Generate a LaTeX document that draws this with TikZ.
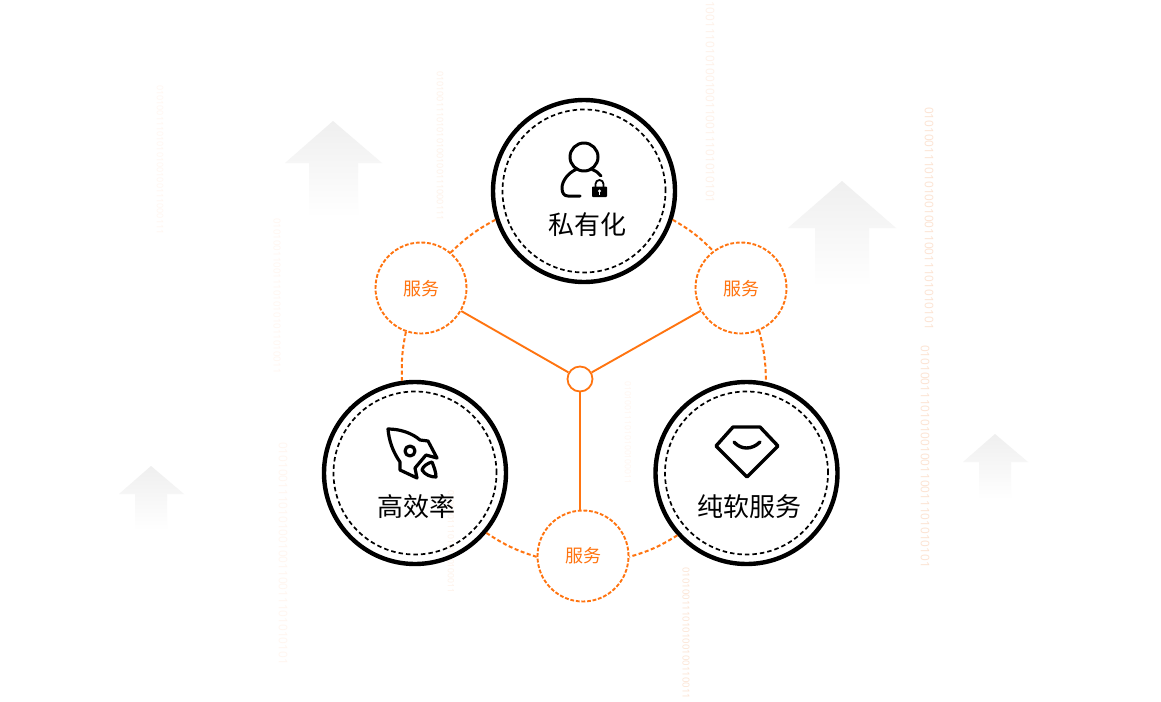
\documentclass[tikz,border=0pt]{standalone}
\usepackage{fontspec}
\setmainfont{Liberation Sans}
\newfontfamily\cjkfont{Noto Sans CJK SC}
\newfontfamily\binfont{Open Sans}
\definecolor{accent}{HTML}{FF7410}
\definecolor{arrowgray}{HTML}{EFEFEF}
\definecolor{binA}{HTML}{FCE3D2}
\definecolor{binB}{HTML}{FEF1E8}
\definecolor{binC}{HTML}{FFF6F0}
\tikzset{
  bigring/.style={circle,draw=black,line width=4.4pt,minimum size=182pt,inner sep=0pt},
  innerring/.style={circle,draw=black,line width=1.7pt,dash pattern=on 4.5pt off 3pt,minimum size=163pt,inner sep=0pt},
  smallring/.style={circle,draw=accent,line width=1.9pt,dash pattern=on 3.8pt off 1.8pt,minimum size=91pt,inner sep=0pt},
  hubring/.style={circle,draw=accent,line width=1.8pt,minimum size=25pt,inner sep=0pt},
  link/.style={draw=accent,line width=2pt,dash pattern=on 4pt off 2.5pt},
  spoke/.style={draw=accent,line width=1.9pt},
  biglabel/.style={font=\cjkfont\fontsize{26}{30}\selectfont,text=black,inner sep=0pt},
  smalllabel/.style={font=\cjkfont\fontsize{18}{22}\selectfont,text=accent,inner sep=0pt},
  binlabel/.style={rotate=-90,anchor=west,inner sep=0pt},
  icon/.style={draw=black,line width=3pt,line join=round,line cap=round},
  bgarrow/.style={top color=arrowgray,bottom color=white,draw=none}
}
\begin{document}
\begin{tikzpicture}[x=1pt,y=-1pt]
\useasboundingbox (0,0) rectangle (1161,701);
\fill[white] (0,0) rectangle (1161,701);
% background arrows
\shade[bgarrow] (333,121) -- (382,163) -- (358,163) -- (358,217) -- (309,217) -- (309,163) -- (285,163) -- cycle;
\shade[bgarrow] (842,181) -- (896,228) -- (869,228) -- (869,287) -- (815,287) -- (815,228) -- (788,228) -- cycle;
\shade[bgarrow] (151,466) -- (184,494) -- (167,494) -- (167,530) -- (135,530) -- (135,494) -- (119,494) -- cycle;
\shade[bgarrow] (995,434) -- (1028,462) -- (1011,462) -- (1011,500) -- (979,500) -- (979,462) -- (963,462) -- cycle;
% binary columns
\node[binlabel,text=binA,font=\binfont\fontsize{11.8}{12}\selectfont] (b1) at (929,107) {010100111010100100110011101010101};
\node[binlabel,text=binA,font=\binfont\fontsize{11.8}{12}\selectfont] (b2) at (925,345) {010100111010100100110011101010101};
\node[binlabel,text=binB,font=\binfont\fontsize{11.8}{12}\selectfont] (b3) at (710,1) {100111010100100110011101010101};
\node[binlabel,text=binB,font=\binfont\fontsize{9}{10}\selectfont] (b4) at (440,71) {01010011101010100100111000111};
\node[binlabel,text=binC,font=\binfont\fontsize{9}{10}\selectfont] (b5) at (160,85) {01010011101010100100111000111};
\node[binlabel,text=binC,font=\binfont\fontsize{9.7}{10}\selectfont] (b6) at (277,218) {0101001100111010101011010011};
\node[binlabel,text=binC,font=\binfont\fontsize{11.8}{12}\selectfont] (b7) at (283,442) {010100111010100100110011101010101};
\node[binlabel,text=binB,font=\binfont\fontsize{8.6}{10}\selectfont] (b8) at (451,490) {010100111010100100011};
\node[binlabel,text=binC,font=\binfont\fontsize{8.6}{10}\selectfont] (b9) at (628,381) {010100111010100100011};
\node[binlabel,text=binA,font=\binfont\fontsize{9.6}{10}\selectfont] (b10) at (686,567) {010100111010100100110011};
% main rings
\node[bigring] (top) at (584,191) {};
\node[bigring] (left) at (415,473) {};
\node[bigring] (right) at (746.5,473) {};
\node[innerring] (topin) at (584,191) {};
\node[innerring] (leftin) at (415,473) {};
\node[innerring] (rightin) at (746.5,473) {};
\node[smallring] (sl) at (421,288) {};
\node[smallring] (sr) at (741,288) {};
\node[smallring] (sb) at (583,556) {};
\node[hubring] (hub) at (580,379) {};
% dashed arc connectors
\draw[link] (top.198) to[bend right=8] (sl.50);
\draw[link] (top.342) to[bend left=8] (sr.127);
\draw[link] (sl.251) to[bend right=7] (left.98.6);
\draw[link] (sr.-67.5) to[bend left=7] (right.78);
\draw[link] (left.-40) to[bend right=8] (sb.181);
\draw[link] (right.222) to[bend left=8] (sb.-1);
% spokes
\draw[spoke] (hub) -- (sl);
\draw[spoke] (hub) -- (sr);
\draw[spoke] (hub.south) -- (hub.south |- sb.north);
% labels
\node[biglabel] (t1) at (587,225) {私有化};
\node[biglabel] (t2) at (416,507) {高效率};
\node[biglabel] (t3) at (749,507) {纯软服务};
\node[smalllabel] (s1) at (421,289) {服务};
\node[smalllabel] (s2) at (741,289) {服务};
\node[smalllabel] (s3) at (583,556) {服务};
% person icon
\draw[icon] (584,157) circle (14);
\draw[icon] (576,169.5) .. controls (568,173) and (562,181) .. (562,188) .. controls (562,193) and (564,196) .. (568,196) -- (580,196);
\draw[icon] (592,169.5) .. controls (596,171) and (599,173) .. (601,176);
\fill[white] (590,177) rectangle (610,199);
\fill[black,rounded corners=0.8pt] (592,186.5) rectangle (607,197);
\draw[black,line width=1.8pt] (595.5,187) -- (595.5,184) arc[start angle=180,end angle=360,radius=4] -- (603.5,187);
\fill[white] (599.5,191) circle (1.6);
\fill[white] (598.8,191) rectangle (600.2,195);
% rocket icon
\begin{scope}[icon,line width=3.2pt]
\draw (388,429) .. controls (400,429) and (412,433) .. (420,440) -- (428,441) -- (437,458) -- (426,455) -- (415,468) -- (417,478) -- (400,470) -- (400,462) .. controls (393,452) and (389,441) .. (388,429) -- cycle;
\draw (410,451) circle (5);
\draw (422,470) .. controls (423,466) and (428,463) .. (432,462) .. controls (434,467) and (436,472) .. (436,477) .. controls (431,477) and (425,475) .. (422,470) -- cycle;
\end{scope}
% diamond icon
\draw[icon,line width=3.4pt] (733,427) -- (760,427) -- (778,446) -- (747,477) -- (716,446) -- cycle;
\draw[icon,line width=3.4pt] (734,442) .. controls (741,450) and (752,450) .. (760,442);
\end{tikzpicture}
\end{document}
